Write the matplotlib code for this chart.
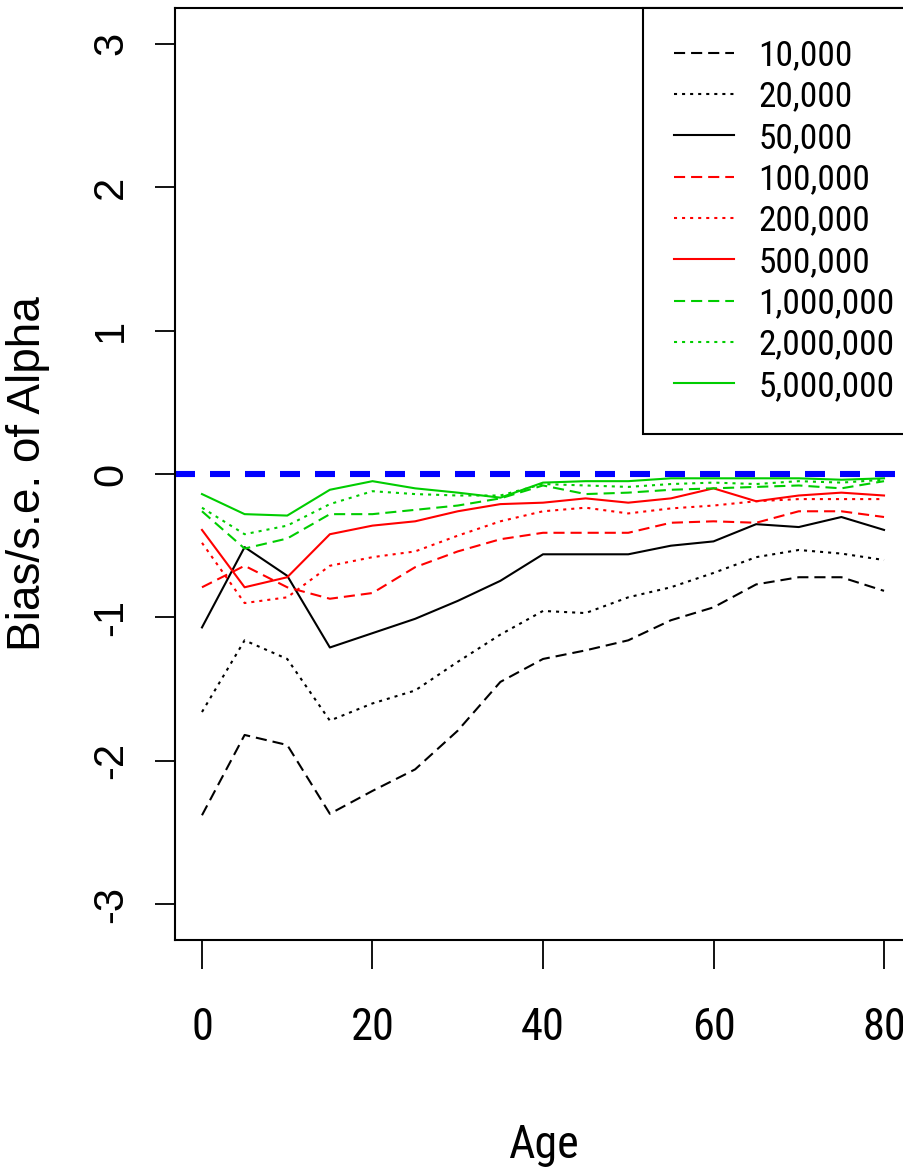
import os
import matplotlib
matplotlib.use("Agg")
import matplotlib.pyplot as plt
from matplotlib import font_manager as fm
from matplotlib.font_manager import FontProperties

plt.rcParams['lines.scale_dashes'] = False
plt.rcParams['axes.unicode_minus'] = False
plt.rcParams['font.family'] = ['Liberation Sans', 'DejaVu Sans']

# ---------------- data ----------------
ages = [0, 5, 10, 15, 20, 25, 30, 35, 40, 45, 50, 55, 60, 65, 70, 75, 80]

n_10000 = [-2.38, -1.82, -1.89, -2.37, -2.21, -2.06, -1.79, -1.45, -1.29, -1.23,
           -1.16, -1.02, -0.93, -0.77, -0.72, -0.72, -0.815]
n_20000 = [-1.66, -1.16, -1.29, -1.72, -1.60, -1.51, -1.31, -1.12, -0.955, -0.97,
           -0.86, -0.79, -0.69, -0.58, -0.53, -0.555, -0.60]
n_50000 = [-1.07, -0.51, -0.71, -1.21, -1.11, -1.01, -0.885, -0.745, -0.56, -0.56,
           -0.56, -0.50, -0.47, -0.35, -0.37, -0.30, -0.39]
n_100000 = [-0.79, -0.64, -0.79, -0.87, -0.83, -0.65, -0.54, -0.455, -0.41, -0.41,
            -0.41, -0.34, -0.33, -0.34, -0.26, -0.26, -0.30]
n_200000 = [-0.48, -0.90, -0.86, -0.64, -0.58, -0.54, -0.43, -0.33, -0.26, -0.235,
            -0.275, -0.24, -0.22, -0.19, -0.175, -0.175, -0.175]
n_500000 = [-0.39, -0.79, -0.72, -0.42, -0.36, -0.33, -0.26, -0.21, -0.20, -0.17,
            -0.20, -0.17, -0.10, -0.19, -0.15, -0.13, -0.15]
n_1000000 = [-0.26, -0.52, -0.45, -0.28, -0.28, -0.25, -0.22, -0.17, -0.08, -0.14,
             -0.13, -0.11, -0.10, -0.09, -0.08, -0.10, -0.05]
n_2000000 = [-0.235, -0.42, -0.36, -0.21, -0.12, -0.14, -0.15, -0.15, -0.07, -0.08,
             -0.09, -0.07, -0.06, -0.07, -0.05, -0.06, -0.04]
n_5000000 = [-0.14, -0.28, -0.29, -0.11, -0.05, -0.10, -0.13, -0.165, -0.06, -0.05,
             -0.05, -0.03, -0.03, -0.03, -0.03, -0.04, -0.03]

labels = ['10,000', '20,000', '50,000', '100,000', '200,000', '500,000',
          '1,000,000', '2,000,000', '5,000,000']
series = [n_10000, n_20000, n_50000, n_100000, n_200000, n_500000,
          n_1000000, n_2000000, n_5000000]
colors = ['black'] * 3 + ['#FF0000'] * 3 + ['#00CD00'] * 3
dashed = (0, (8.0, 4.3))
dotted = (0, (2.2, 3.6))
styles = [dashed, dotted, '-'] * 3

xticks = [0, 20, 40, 60, 80]
yticks = [-3, -2, -1, 0, 1, 2, 3]


# ---------------- narrow font lookup ----------------
def find_narrow():
    files = {}
    for f in fm.fontManager.ttflist:
        files[os.path.basename(f.fname).lower()] = f.fname
    prefs = ['liberationsansnarrow-regular.ttf', 'arialn.ttf', 'arialnarrow.ttf',
             'robotocondensed-regular.ttf', 'notosans-condensed.ttf',
             'opensans_condensed-regular.ttf', 'opensans-condensed.ttf',
             'lato-condensed.ttf', 'inter-condensed.ttf']
    for p in prefs:
        if p in files:
            return files[p]
    bad = ('bold', 'italic', 'oblique', 'light', 'thin', 'black', 'medium',
           'semibold', 'extrabold', 'extralight', 'mono', 'serif', 'extracondensed',
           'ultracondensed', 'dejavu')
    for name, path in sorted(files.items()):
        if ('narrow' in name or 'condensed' in name) and not any(b in name for b in bad):
            return path
    return None


narrow_path = find_narrow()


def nfont(size):
    if narrow_path:
        return FontProperties(fname=narrow_path, size=size)
    return FontProperties(family='Liberation Sans', size=size * 0.84)


# ---------------- figure ----------------
W, H = 904, 1173
fig = plt.figure(figsize=(W / 100, H / 100), dpi=100)
ax_l, ax_r, ax_t, ax_b = 174.7, 911.3, 8.0, 940.0
ax = fig.add_axes([ax_l / W, 1 - ax_b / H, (ax_r - ax_l) / W, (ax_b - ax_t) / H])

handles = []
for vals, col, ls, lab in zip(series, colors, styles, labels):
    h, = ax.plot(ages, vals, color=col, linestyle=ls, lw=1.5, label=lab)
    handles.append(h)

ax.axhline(0, color='#0000FF', lw=4.4, linestyle=(0, (14.4, 10.8)))

ax.set_xlim(-3.2, 83.2)
ax.set_ylim(-3.25, 3.25)
ax.set_xticks(xticks)
ax.set_yticks(yticks)

for sp in ax.spines.values():
    sp.set_linewidth(1.5)
    sp.set_color('black')

ax.tick_params(axis='x', direction='out', length=21, width=1.3, pad=27)
ax.tick_params(axis='y', direction='out', length=14.4, width=1.3, pad=17, labelsize=30,
               labelrotation=90)
for lbl in ax.get_xticklabels():
    lbl.set_fontproperties(nfont(32))
for lbl in ax.get_yticklabels():
    lbl.set_fontfamily(['Liberation Sans', 'DejaVu Sans'])
    lbl.set_fontsize(30)
    lbl.set_verticalalignment('center')

ax.set_ylabel('Bias/s.e. of Alpha', fontsize=33, family=['Liberation Sans', 'DejaVu Sans'],
              va='center')
ax.yaxis.set_label_coords(-(ax_l - 28) / (ax_r - ax_l), 0.5)
ax.set_xlabel('Age', fontproperties=nfont(33), va='center')
ax.xaxis.set_label_coords(0.5, -(1145 - ax_b) / (ax_b - ax_t))

leg = ax.legend(handles=handles, loc='upper left',
                bbox_to_anchor=(643 / W, 1 - 8 / H), bbox_transform=fig.transFigure,
                borderaxespad=0, frameon=True, fancybox=False, framealpha=1,
                edgecolor='black', prop=nfont(25.5), handlelength=1.69, handletextpad=0.68,
                borderpad=0.88, labelspacing=0.235)
leg.get_frame().set_linewidth(1.5)

fig.savefig('out.png', dpi=100)
